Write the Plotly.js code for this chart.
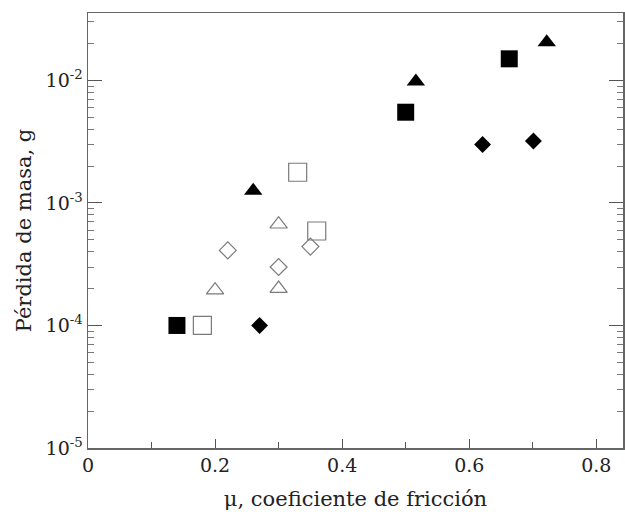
<!DOCTYPE html>
<html>
<head>
<meta charset="utf-8">
<script src="https://cdn.plot.ly/plotly-3.0.1.min.js"></script>
<style>html,body{margin:0;padding:0;background:#fff;}#chart{width:625px;height:520px;}</style>
</head>
<body>
<div id="chart"></div>
<script>
// Data
const filledSquareX = [0.14, 0.50, 0.663];
const filledSquareY = [1.0e-4, 5.5e-3, 1.5e-2];
const filledTriangleX = [0.26, 0.516, 0.722];
const filledTriangleY = [1.26e-3, 9.8e-3, 2.05e-2];
const filledDiamondX = [0.27, 0.621, 0.701];
const filledDiamondY = [1.0e-4, 3.0e-3, 3.2e-3];
const openSquareX = [0.18, 0.33, 0.36];
const openSquareY = [1.0e-4, 1.78e-3, 5.9e-4];
const openTriangleX = [0.20, 0.30, 0.30];
const openTriangleY = [1.94e-4, 2.0e-4, 6.7e-4];
const openDiamondX = [0.22, 0.30, 0.35];
const openDiamondY = [4.1e-4, 3.0e-4, 4.4e-4];

const yTickVals = [1e-5, 1e-4, 1e-3, 1e-2];
const yTickText = ['10<sup>-5</sup>', '10<sup>-4</sup>', '10<sup>-3</sup>', '10<sup>-2</sup>'];
const xTickVals = [0, 0.2, 0.4, 0.6, 0.8];
const xTickText = ['0', '0.2', '0.4', '0.6', '0.8'];

const yMinor = [];
for (let e = -5; e <= -2; e++) for (let m = 2; m <= 9; m++) yMinor.push(m * Math.pow(10, e));

const openCol = '#7a7a7a';
function tr(x, y, symbol, size, filled) {
  return {
    x: x, y: y, type: 'scatter', mode: 'markers', showlegend: false, hoverinfo: 'skip',
    marker: filled
      ? {symbol: symbol, size: size, color: '#000', line: {width: 0}}
      : {symbol: symbol + '-open', size: size, color: openCol, line: {width: 1.2, color: openCol}}
  };
}

const data = [
  tr(filledSquareX, filledSquareY, 'square', 17, true),
  tr(filledTriangleX, filledTriangleY, 'triangle-up', 16, true),
  tr(filledDiamondX, filledDiamondY, 'diamond', 13, true),
  tr(openSquareX, openSquareY, 'square', 18, false),
  tr(openTriangleX, openTriangleY, 'triangle-up', 15, false),
  tr(openDiamondX, openDiamondY, 'diamond', 13, false)
];

const fam = 'DejaVu Serif';
const layout = {
  width: 625, height: 520,
  margin: {l: 88, r: 2, t: 13, b: 72},
  paper_bgcolor: '#fff', plot_bgcolor: '#fff',
  font: {family: fam, size: 19, color: '#222'},
  xaxis: {
    range: [0, 0.842],
    tickmode: 'array', tickvals: xTickVals, ticktext: xTickText,
    ticks: 'inside', ticklen: 9, tickwidth: 1, tickcolor: '#555',
    minor: {tickmode: 'array', tickvals: [0.1, 0.3, 0.5, 0.7], ticks: 'inside', ticklen: 6, tickcolor: '#555', showgrid: false},
    showline: true, linecolor: '#666', linewidth: 1.5, mirror: true,
    showgrid: false, zeroline: false,
    tickfont: {family: fam, size: 19, color: '#222'},
    title: {text: 'μ, coeficiente de fricción', font: {family: fam, size: 21, color: '#222'}, standoff: 16}
  },
  yaxis: {
    type: 'log', range: [-5, -1.45],
    tickmode: 'array', tickvals: yTickVals, ticktext: yTickText,
    ticks: 'inside', ticklen: 14, tickwidth: 1, tickcolor: '#555',
    minor: {tickmode: 'array', tickvals: yMinor, ticks: 'inside', ticklen: 6, tickcolor: '#777', showgrid: false},
    showline: true, linecolor: '#666', linewidth: 1.5, mirror: 'ticks',
    showgrid: false, zeroline: false,
    tickfont: {family: fam, size: 19, color: '#222'},
    title: {text: 'Pérdida de masa, g', font: {family: fam, size: 21, color: '#222'}, standoff: 8}
  }
};

Plotly.newPlot('chart', data, layout, {staticPlot: true, displayModeBar: false});
</script>
</body>
</html>
